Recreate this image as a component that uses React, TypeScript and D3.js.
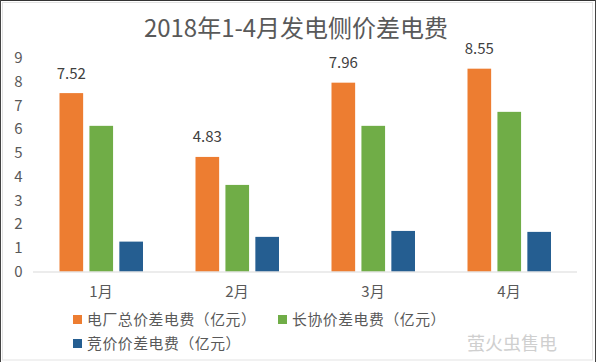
import React from "react";
import * as d3 from "d3";

const months = ["1月", "2月", "3月", "4月"];
const seriesNames = ["电厂总价差电费（亿元）", "长协价差电费（亿元）", "竞价价差电费（亿元）"];
const totalValues = [7.52, 4.83, 7.96, 8.55];
const longTermValues = [6.14, 3.65, 6.14, 6.73];
const biddingValues = [1.26, 1.46, 1.71, 1.67];
const yTicks = [0, 1, 2, 3, 4, 5, 6, 7, 8, 9];
const colors = ["#ED7D31", "#70AD47", "#255E91"];

const W = 596;
const H = 362;
const FONT = "'Noto Sans CJK SC', 'Noto Sans', sans-serif";

export default function App() {
  const seriesValues = [totalValues, longTermValues, biddingValues];
  const x0 = d3.scaleBand<string>().domain(months).range([33, 577]).padding(0);
  const x1 = d3.scaleBand<number>().domain([0, 1, 2]).range([26.5, 110]).paddingInner(0.21);
  const y = d3.scaleLinear().domain([0, 9]).range([271.5, 58]);

  return (
    <div style={{ position: "fixed", left: 0, top: 0, width: W, height: H, background: "#fff" }}>
      <svg width={W} height={H} style={{ display: "block", fontFamily: FONT }}>
        <rect x={0} y={0} width={W} height={H} fill="#fff" />
        <rect x={2.5} y={2.5} width={590} height={357.5} fill="none" stroke="#e3e3e3" />
        <line x1={0} x2={W} y1={0.5} y2={0.5} stroke="#333" />
        <line x1={0.5} x2={0.5} y1={0} y2={H} stroke="#444" />
        <line x1={W - 0.5} x2={W - 0.5} y1={0} y2={H} stroke="#444" />

        <text x={296} y={37} textAnchor="middle" fontSize={24} fill="#595959">
          2018年1-4月发电侧价差电费
        </text>

        {yTicks.map((t) => (
          <text key={t} x={22.5} y={y(t)} dy="0.35em" textAnchor="end" fontSize={15} fill="#595959">
            {t}
          </text>
        ))}

        {months.map((m, i) => (
          <g key={m} transform={`translate(${x0(m)},0)`}>
            {seriesValues.map((vals, s) => (
              <rect
                key={s}
                x={x1(s)}
                y={y(vals[i])}
                width={x1.bandwidth()}
                height={y(0) - y(vals[i])}
                fill={colors[s]}
              />
            ))}
            <text
              x={(x1(0) as number) + x1.bandwidth() / 2}
              y={y(totalValues[i]) - 14.5}
              textAnchor="middle"
              fontSize={15}
              fill="#404040"
            >
              {totalValues[i].toFixed(2)}
            </text>
            <text x={x0.bandwidth() / 2} y={296.5} textAnchor="middle" fontSize={15} fill="#595959">
              {m}
            </text>
          </g>
        ))}

        <line x1={33} x2={577} y1={y(0) + 0.5} y2={y(0) + 0.5} stroke="#d9d9d9" />

        {[
          { x: 73, y: 315 },
          { x: 278, y: 315 },
          { x: 73, y: 339 },
        ].map((p, s) => (
          <g key={s}>
            <rect x={p.x} y={p.y} width={9} height={9} fill={colors[s]} />
            <text
              x={p.x + 14}
              y={p.y + 4.5}
              dy="0.36em"
              fontSize={14.8}
              letterSpacing={0.6}
              fill="#595959"
            >
              {seriesNames[s]}
            </text>
          </g>
        ))}

        <text x={512} y={344} dy="0.35em" textAnchor="middle" fontSize={18} fill="#cfcfcf">
          萤火虫售电
        </text>
      </svg>
    </div>
  );
}
